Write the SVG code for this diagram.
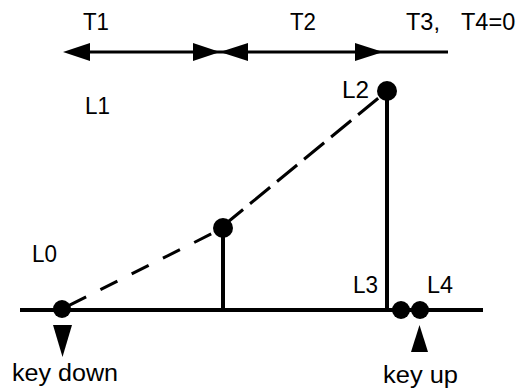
<svg xmlns="http://www.w3.org/2000/svg" width="518" height="390" viewBox="0 0 518 390">
<style>
  text { font-family: "Liberation Sans", Arial, sans-serif; font-size: 23.5px; fill: #000; }
  .solid { stroke: #000; stroke-width: 4; fill: none; }
  .thin { stroke: #000; stroke-width: 3; fill: none; }
  .dash { stroke: #000; stroke-width: 3; fill: none; }
  .dot { fill: #000; }
  .head { fill: #000; }
</style>
<rect width="518" height="390" fill="#fff"/>
<g id="connectors">
  <line class="thin" x1="80" y1="52" x2="448" y2="52"/>
  <polygon class="head" points="63,52 90,43 90,61"/>
  <polygon class="head" points="220,52 193,43 193,61"/>
  <polygon class="head" points="220,52 248,43 248,61"/>
  <polygon class="head" points="383,52 355,43 355,61"/>
  <line class="solid" x1="20" y1="310" x2="483" y2="310"/>
  <line class="solid" x1="223" y1="228" x2="223" y2="310"/>
  <line class="solid" x1="387" y1="91" x2="387" y2="310"/>
  <line class="dash" x1="62" y1="309" x2="223" y2="228" stroke-dasharray="19 16" stroke-dashoffset="-8"/>
  <line class="dash" x1="223" y1="226" x2="387" y2="91" stroke-dasharray="26 9"/>
  <polygon class="head" points="53,325 72,325 62.5,357"/>
  <polygon class="head" points="419.5,325 411,352 428,352"/>
</g>
<g id="labels-top">
  <text x="83" y="30" textLength="26" lengthAdjust="spacingAndGlyphs">T1</text>
  <text x="290" y="30" textLength="26" lengthAdjust="spacingAndGlyphs">T2</text>
  <text y="30"><tspan x="406">T3,</tspan><tspan x="461">T4=0</tspan></text>
</g>
<g id="L0">
  <circle class="dot" cx="62" cy="309" r="9"/>
  <text x="32" y="262" textLength="25" lengthAdjust="spacingAndGlyphs">L0</text>
</g>
<g id="L1">
  <text x="85" y="114" textLength="25" lengthAdjust="spacingAndGlyphs">L1</text>
</g>
<g id="mid">
  <circle class="dot" cx="223" cy="228" r="10"/>
</g>
<g id="L2">
  <circle class="dot" cx="387" cy="91" r="10"/>
  <text x="342" y="98" textLength="27" lengthAdjust="spacingAndGlyphs">L2</text>
</g>
<g id="L3">
  <circle class="dot" cx="401" cy="310" r="9"/>
  <text x="353" y="293" textLength="25" lengthAdjust="spacingAndGlyphs">L3</text>
</g>
<g id="L4">
  <circle class="dot" cx="420" cy="310" r="9"/>
  <text x="427" y="293" textLength="26" lengthAdjust="spacingAndGlyphs">L4</text>
</g>
<g id="key-down">
  <text x="12" y="381" textLength="106" lengthAdjust="spacingAndGlyphs">key down</text>
</g>
<g id="key-up">
  <text x="383" y="383" textLength="75" lengthAdjust="spacingAndGlyphs">key up</text>
</g>
</svg>
